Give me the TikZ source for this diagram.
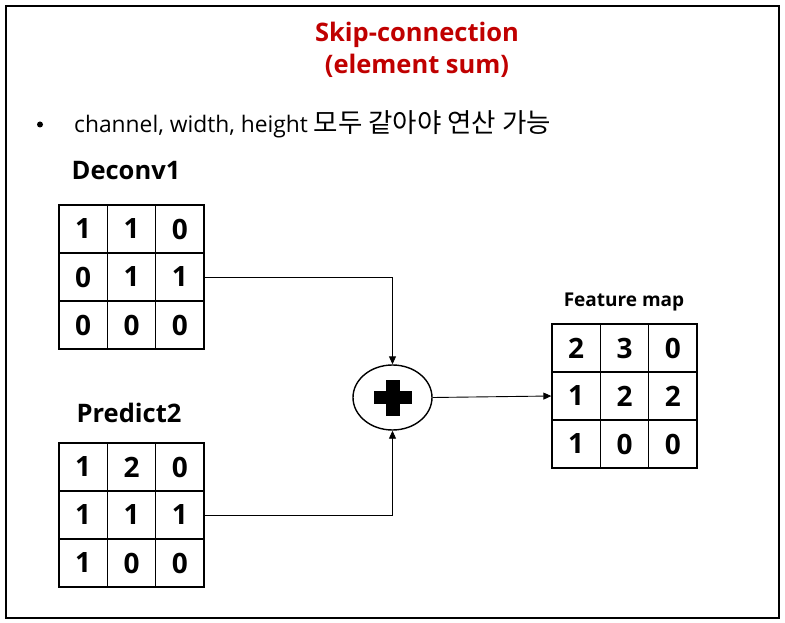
\documentclass[tikz,border=0pt]{standalone}
\usepackage{fontspec}
\setmainfont{Open Sans}
\newfontfamily\kor{Noto Sans CJK KR}
\usetikzlibrary{arrows.meta,shapes.geometric}
\definecolor{titlered}{HTML}{C00000}
\tikzset{
  cell/.style={draw, line width=1.4pt, minimum width=48.3pt, minimum height=48pt, inner sep=0pt, font=\fontsize{28}{30}\selectfont\bfseries, anchor=center},
  lbl/.style={font=\fontsize{25.5}{28}\selectfont\bfseries, inner sep=0pt},
  conn/.style={line width=0.9pt, -{Triangle[length=8pt,width=7pt]}},
}
\begin{document}
\begin{tikzpicture}[x=1pt,y=-1pt]
\useasboundingbox (0,0) rectangle (785,623);
\draw[line width=2.2pt] (6,6) rectangle (779,618);
% title
\node[font=\fontsize{25.5}{32}\selectfont\bfseries, text=titlered, align=center] (title) at (417,50) {Skip-connection\\(element sum)};
% bullet
\fill (40,124.5) circle (3pt);
\node[font=\fontsize{22.8}{24}\selectfont, anchor=west, inner sep=0pt] (btxt) at (74,124) {channel, width, height {\kor\fontsize{26.5}{27}\selectfont 모두 같아야 연산 가능}};
% labels
\node[lbl] (dl) at (126,171) {Deconv1};
\node[lbl] (pl) at (129,413) {Predict2};
\node[font=\fontsize{19}{21}\selectfont\bfseries, inner sep=0pt] (fl) at (624,302) {Feature map};
% grids
\foreach \r/\a/\b/\c in {1/1/1/0,2/0/1/1,3/0/0/0}{
  \node[cell] (d-\r-1) at (83.2,{229+48*(\r-1)}) {\a};
  \node[cell] (d-\r-2) at (131.5,{229+48*(\r-1)}) {\b};
  \node[cell] (d-\r-3) at (179.8,{229+48*(\r-1)}) {\c};
}
\foreach \r/\a/\b/\c in {1/1/2/0,2/1/1/1,3/1/0/0}{
  \node[cell] (p-\r-1) at (83.2,{467+48*(\r-1)}) {\a};
  \node[cell] (p-\r-2) at (131.5,{467+48*(\r-1)}) {\b};
  \node[cell] (p-\r-3) at (179.8,{467+48*(\r-1)}) {\c};
}
\foreach \r/\a/\b/\c in {1/2/3/0,2/1/2/2,3/1/0/0}{
  \node[cell] (f-\r-1) at (576.2,{348+48*(\r-1)}) {\a};
  \node[cell] (f-\r-2) at (624.5,{348+48*(\r-1)}) {\b};
  \node[cell] (f-\r-3) at (672.8,{348+48*(\r-1)}) {\c};
}
% plus
\node[ellipse, draw, line width=1.4pt, minimum width=79pt, minimum height=65pt, inner sep=0pt] (plus) at (392.5,397.5) {};
\fill (plus.center) ++(-19,-6.5) rectangle ++(38,13);
\fill (plus.center) ++(-7,-18) rectangle ++(14,36);
% connectors
\draw[conn] (d-2-3.east) -| (plus.north);
\draw[conn] (p-2-3.east) -| (plus.south);
\draw[conn] (plus.east) -- (f-2-1.west);
\end{tikzpicture}
\end{document}
